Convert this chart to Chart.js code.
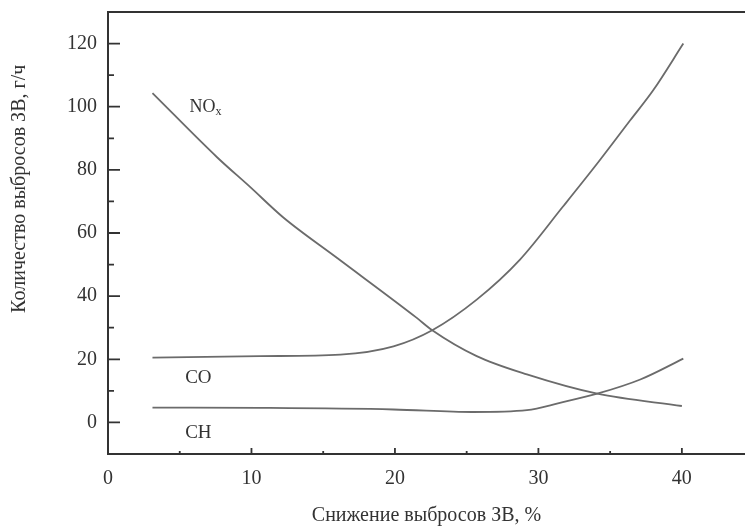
<!DOCTYPE html>
<html>
<head>
<meta charset="utf-8">
<script src="https://cdn.jsdelivr.net/npm/chart.js@4/dist/chart.umd.min.js"></script>
<style>
  html, body { margin: 0; padding: 0; background: #fff; }
  #wrap { width: 745px; height: 526px; }
</style>
</head>
<body>
<div id="wrap"><canvas id="emissionChart" width="745" height="526"></canvas></div>
<script>
// данные
const noxX = [3.1, 7.6, 9.9, 12.2, 16.0, 21.5, 22.6, 25.7, 29.2, 34.1, 40.0];
const noxY = [104.3, 84.0, 74.6, 65.0, 52.0, 33.2, 29.2, 21.0, 15.2, 9.1, 5.2];

const coX = [3.1, 10.6, 16.2, 19.9, 22.6, 25.7, 28.7, 31.7, 34.1, 36.4, 38.0, 40.1];
const coY = [20.5, 21.0, 21.5, 24.1, 29.2, 38.9, 51.5, 68.3, 82.0, 95.7, 105.2, 120.0];

const chX = [3.1, 10.6, 19.9, 25.4, 29.2, 31.5, 34.1, 37.1, 40.1];
const chY = [4.7, 4.6, 4.1, 3.3, 3.9, 6.2, 9.1, 13.6, 20.2];

const xTicks = [0, 10, 20, 30, 40];
const xMinor = [5, 15, 25, 35];
const yTicks = [0, 20, 40, 60, 80, 100, 120];
const yMinor = [10, 30, 50, 70, 90, 110];

const curveNames = ["NOx", "CO", "CH"];
const nameX = [6.8, 6.3, 6.3];
const nameY = [99.9, 14.2, -3.3];

const yTitle = "Количество выбросов ЗВ, г/ч";
const xTitle = "Снижение выбросов ЗВ, %";

const FONT = "'Liberation Serif', 'Times New Roman', serif";
const INK = "#333";
const LINE = "#6b6b6b";

function toPoints(xs, ys) {
    return xs.map((x, i) => ({ x: x, y: ys[i] }));
}

// рамка сверху, засечки внутрь, подписи кривых, подпись оси Y
const decor = {
    id: "decor",
    afterDraw(chart) {
        const ctx = chart.ctx;
        const a = chart.chartArea;
        const sx = chart.scales.x;
        const sy = chart.scales.y;
        ctx.save();
        ctx.strokeStyle = INK;
        ctx.lineWidth = 2;
        ctx.beginPath();
        ctx.moveTo(a.left - 1, a.top);
        ctx.lineTo(a.right, a.top);
        ctx.stroke();

        ctx.lineWidth = 1.8;
        ctx.beginPath();
        yTicks.forEach(v => { const p = sy.getPixelForValue(v); ctx.moveTo(a.left, p); ctx.lineTo(a.left + 12, p); });
        yMinor.forEach(v => { const p = sy.getPixelForValue(v); ctx.moveTo(a.left, p); ctx.lineTo(a.left + 6, p); });
        xTicks.forEach(v => { const p = sx.getPixelForValue(v); ctx.moveTo(p, a.bottom); ctx.lineTo(p, a.bottom - 6); });
        xMinor.forEach(v => { const p = sx.getPixelForValue(v); ctx.moveTo(p, a.bottom); ctx.lineTo(p, a.bottom - 3); });
        ctx.stroke();

        ctx.fillStyle = INK;
        ctx.textBaseline = "middle";
        curveNames.forEach((name, i) => {
            const px = sx.getPixelForValue(nameX[i]);
            const py = sy.getPixelForValue(nameY[i]);
            if (name === "NOx") {
                ctx.font = "18px " + FONT;
                const w = ctx.measureText("NO").width;
                ctx.textAlign = "left";
                ctx.fillText("NO", px - w / 2 - 3, py);
                ctx.font = "12px " + FONT;
                ctx.fillText("x", px + w / 2 - 3, py + 5);
            } else {
                ctx.font = "19px " + FONT;
                ctx.textAlign = "center";
                ctx.fillText(name, px, py);
            }
        });

        // подпись оси Y смещена вверх, как в оригинале
        ctx.translate(20, a.top + (a.bottom - a.top) * 0.4);
        ctx.rotate(-Math.PI / 2);
        ctx.font = "20px " + FONT;
        ctx.textAlign = "center";
        ctx.fillText(yTitle, 0, 0);
        ctx.restore();
    }
};

const lineStyle = {
    borderColor: LINE,
    borderWidth: 1.8,
    pointRadius: 0,
    fill: false,
    cubicInterpolationMode: "monotone"
};

let emissionChart = new Chart(document.getElementById("emissionChart"), {
    type: "line",
    data: {
        datasets: [
            Object.assign({ label: "NOx", data: toPoints(noxX, noxY) }, lineStyle),
            Object.assign({ label: "CO", data: toPoints(coX, coY) }, lineStyle),
            Object.assign({ label: "CH", data: toPoints(chX, chY) }, lineStyle)
        ]
    },
    options: {
        responsive: false,
        animation: false,
        layout: { padding: { top: 12, right: 0, left: 0, bottom: 0 } },
        plugins: {
            legend: { display: false },
            tooltip: { enabled: false }
        },
        scales: {
            x: {
                type: "linear",
                min: 0,
                max: 44.4,
                afterFit(scale) {
                    scale.height = 72;
                    scale.paddingLeft = 0;
                    scale.paddingRight = 0;
                },
                afterBuildTicks(scale) { scale.ticks = xTicks.map(v => ({ value: v })); },
                grid: { display: false, drawTicks: false },
                border: { display: true, color: INK, width: 2 },
                ticks: {
                    color: INK,
                    padding: 13,
                    maxRotation: 0,
                    font: { family: FONT, size: 20 }
                },
                title: {
                    display: true,
                    text: xTitle,
                    color: INK,
                    padding: { top: 0, bottom: 0 },
                    font: { family: FONT, size: 20, lineHeight: 1 }
                }
            },
            y: {
                type: "linear",
                min: -10,
                max: 130,
                afterFit(scale) {
                    scale.width = 108;
                    scale.paddingTop = 0;
                    scale.paddingBottom = 0;
                },
                afterBuildTicks(scale) { scale.ticks = yTicks.map(v => ({ value: v })); },
                grid: { display: false, drawTicks: false },
                border: { display: true, color: INK, width: 2 },
                ticks: {
                    color: INK,
                    padding: 11,
                    font: { family: FONT, size: 20 }
                }
            }
        }
    },
    plugins: [decor]
});
</script>
</body>
</html>
